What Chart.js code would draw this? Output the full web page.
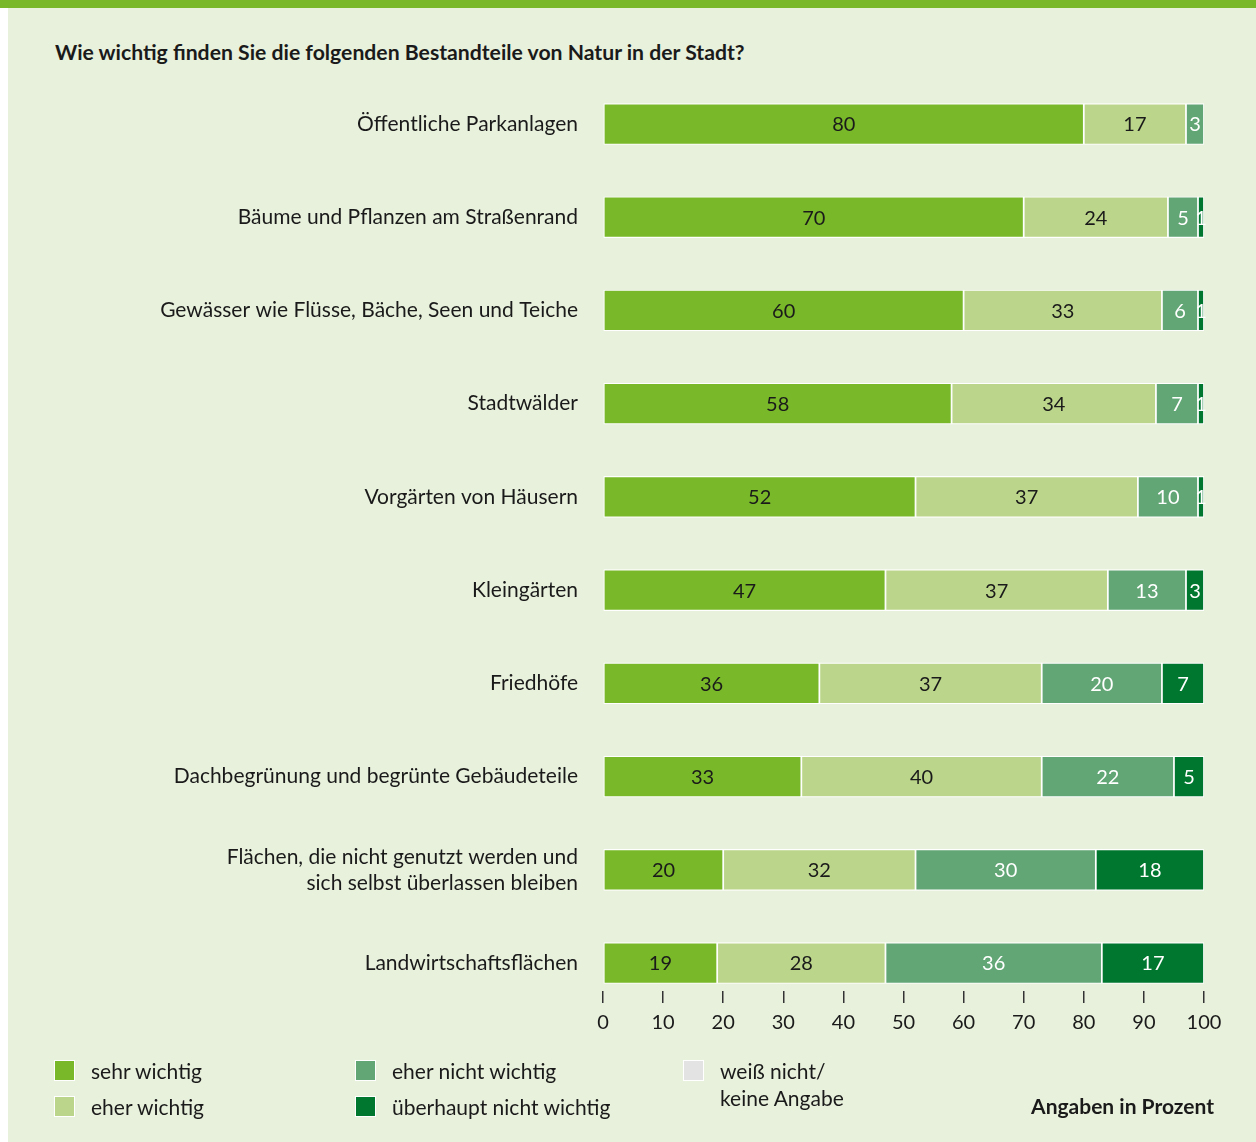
<!DOCTYPE html>
<html lang="de">
<head>
<meta charset="utf-8">
<script src="https://cdn.jsdelivr.net/npm/chart.js@4.4.1/dist/chart.umd.min.js"></script>
<style>
  html, body { margin: 0; padding: 0; background: #fff; }
  body { width: 1256px; height: 1142px; position: relative; overflow: hidden; font-family: Lato, "Noto Sans", sans-serif; color: #1a1a1a; }
  #panel { position: absolute; left: 8px; top: 0; width: 1248px; height: 1142px; background: #e8f1dc; }
  #topbar { position: absolute; left: 0; top: 0; width: 1256px; height: 8px; background: #78b829; }
  #title { position: absolute; left: 55px; top: 39px; font-weight: bold; font-size: 21.2px; white-space: nowrap; }
  #chart { position: absolute; left: 0; top: 0; }
  .leg { position: absolute; font-size: 21px; line-height: 27px; white-space: nowrap; }
  .sw { position: absolute; width: 19px; height: 19px; border: 1.5px solid #fff; }
  #unit { position: absolute; right: 42px; top: 1093px; font-weight: bold; font-size: 21px; }
</style>
</head>
<body>
<div id="panel"></div>
<div id="topbar"></div>
<div id="title">Wie wichtig finden Sie die folgenden Bestandteile von Natur in der Stadt?</div>
<canvas id="chart" width="1256" height="1142"></canvas>
<div id="legend"></div>
<div id="unit">Angaben in Prozent</div>
<script>
/* === DATEN === */
const kategorien = [
  "Öffentliche Parkanlagen",
  "Bäume und Pflanzen am Straßenrand",
  "Gewässer wie Flüsse, Bäche, Seen und Teiche",
  "Stadtwälder",
  "Vorgärten von Häusern",
  "Kleingärten",
  "Friedhöfe",
  "Dachbegrünung und begrünte Gebäudeteile",
  ["Flächen, die nicht genutzt werden und", "sich selbst überlassen bleiben"],
  "Landwirtschaftsflächen"
];
const sehrWichtig       = [80, 70, 60, 58, 52, 47, 36, 33, 20, 19];
const eherWichtig       = [17, 24, 33, 34, 37, 37, 37, 40, 32, 28];
const eherNichtWichtig  = [3, 5, 6, 7, 10, 13, 20, 22, 30, 36];
const ueberhauptNicht   = [0, 1, 1, 1, 1, 3, 7, 5, 18, 17];
const xTicks = [0, 10, 20, 30, 40, 50, 60, 70, 80, 90, 100];

const serienNamen = ["sehr wichtig", "eher wichtig", "eher nicht wichtig", "überhaupt nicht wichtig", "weiß nicht/\nkeine Angabe"];
const farben      = ["#78b829", "#bbd68a", "#62a676", "#00772f", "#e3e3e3"];
const textFarben  = ["#1a1a1a", "#1a1a1a", "#ffffff", "#ffffff"];

const schrift = 'Lato, "Noto Sans", sans-serif';

/* === LEGENDE (HTML) === */
const legPos = [
  { x: 54,  y: 1060 }, { x: 54,  y: 1096 },
  { x: 355, y: 1060 }, { x: 355, y: 1096 },
  { x: 683, y: 1060 }
];
const legendEl = document.getElementById("legend");
serienNamen.forEach((name, i) => {
  const sw = document.createElement("div");
  sw.className = "sw";
  sw.style.left = legPos[i].x + "px";
  sw.style.top = legPos[i].y + "px";
  sw.style.background = farben[i];
  legendEl.appendChild(sw);
  const t = document.createElement("div");
  t.className = "leg";
  t.style.left = (legPos[i].x + 37) + "px";
  t.style.top = (legPos[i].y - 3) + "px";
  t.innerHTML = name.replace("\n", "<br>");
  legendEl.appendChild(t);
});

/* === WERTE IN DEN BALKEN === */
const valueLabels = {
  id: "valueLabels",
  afterDatasetsDraw(chart) {
    const ctx = chart.ctx;
    ctx.save();
    ctx.font = "20px " + schrift;
    ctx.textAlign = "center";
    ctx.textBaseline = "middle";
    chart.data.datasets.forEach((ds, i) => {
      chart.getDatasetMeta(i).data.forEach((bar, j) => {
        const v = ds.data[j].x;
        if (!v) return;
        const c = bar.getCenterPoint();
        ctx.fillStyle = textFarben[i];
        ctx.fillText(String(v), c.x, c.y + 1);
      });
    });
    ctx.restore();
  }
};

const reihen = [sehrWichtig, eherWichtig, eherNichtWichtig, ueberhauptNicht];
const datasets = reihen.map((werte, i) => ({
  label: serienNamen[i],
  data: werte.map((v, j) => ({ x: v, y: j })),
  backgroundColor: farben[i],
  borderColor: "#ffffff",
  borderWidth: 1.2,
  borderSkipped: false,
  barThickness: 41
}));

const ctx = document.getElementById("chart").getContext("2d");
const chart = new Chart(ctx, {
  type: "bar",
  data: { datasets },
  plugins: [valueLabels],
  options: {
    indexAxis: "y",
    responsive: false,
    animation: false,
    layout: { padding: { left: 0, right: 52, top: 77.4, bottom: 0 } },
    plugins: {
      legend: { display: false },
      tooltip: { enabled: false }
    },
    scales: {
      x: {
        type: "linear",
        stacked: true,
        min: 0,
        max: 100,
        afterBuildTicks: (scale) => { scale.ticks = xTicks.map(v => ({ value: v })); },
        afterFit: (scale) => {
          scale.height = 151;
          scale.paddingLeft = 0; scale.paddingRight = 0;
        },
        ticks: {
          color: "#1a1a1a",
          font: { family: schrift, size: 20 },
          padding: 8,
          maxRotation: 0
        },
        grid: { display: true, drawOnChartArea: false, drawTicks: true, tickLength: 12, color: "#333", lineWidth: 1.5 },
        border: { display: false }
      },
      y: {
        type: "linear",
        stacked: true,
        reverse: true,
        offset: false,
        min: -0.5,
        max: 9.3,
        afterFit: (scale) => {
          scale.width = 603;
          scale.paddingTop = 0; scale.paddingBottom = 0;
        },
        ticks: {
          stepSize: 1,
          autoSkip: false,
          padding: 25,
          color: "#1a1a1a",
          font: { family: schrift, size: 21, lineHeight: 1.24 },
          callback: (v) => Number.isInteger(v) && kategorien[v] !== undefined ? kategorien[v] : ""
        },
        grid: { display: false, drawTicks: false, offset: false },
        border: { display: false }
      }
    }
  }
});
</script>
</body>
</html>
